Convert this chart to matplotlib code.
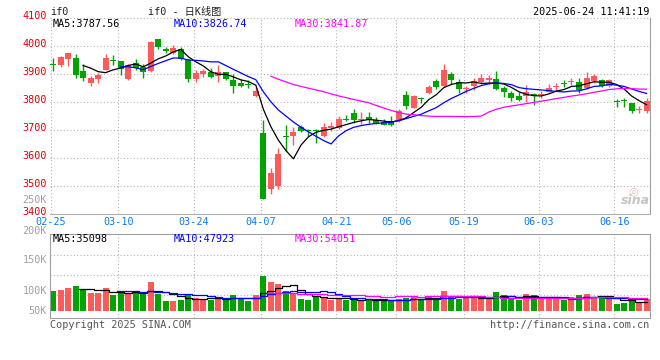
import matplotlib
matplotlib.use("Agg")
import matplotlib.pyplot as plt
import matplotlib.transforms as mtransforms
import numpy as np
import pandas as pd

# ---- data (IF0 daily, 80 sessions) ----
tick_idx = [0, 9, 19, 28, 38, 46, 55, 65, 75]
tick_labels = ["02-25", "03-10", "03-24", "04-07", "04-21", "05-06", "05-19", "06-03", "06-16"]
price_ticks = [3400, 3500, 3600, 3700, 3800, 3900, 4000, 4100]

opens = [3934, 3933, 3955, 3957, 3910, 3869, 3882, 3914, 3950, 3946,
         3882, 3938, 3924, 3911, 4025, 3987, 3976, 3989, 3950, 3882,
         3900, 3906, 3893, 3907, 3880, 3869, 3864, 3822, 3688, 3488,
         3500, 3679, 3679, 3711, 3699, 3698, 3679, 3707, 3708, 3738,
         3760, 3737, 3748, 3736, 3730, 3732, 3732, 3824, 3780, 3814,
         3833, 3875, 3857, 3899, 3873, 3845, 3856, 3871, 3880, 3881,
         3849, 3833, 3822, 3823, 3830, 3824, 3836, 3853, 3867, 3871,
         3873, 3851, 3876, 3877, 3858, 3804, 3807, 3798, 3770, 3768]
highs = [3956, 3964, 3975, 3971, 3936, 3893, 3905, 3971, 3968, 3946,
         3935, 3954, 3936, 4018, 4025, 3998, 4004, 3995, 3955, 3914,
         3917, 3923, 3933, 3907, 3901, 3881, 3879, 3855, 3735, 3564,
         3637, 3717, 3712, 3719, 3702, 3705, 3726, 3729, 3750, 3752,
         3774, 3764, 3764, 3748, 3741, 3750, 3776, 3839, 3825, 3819,
         3862, 3881, 3937, 3908, 3881, 3857, 3885, 3900, 3896, 3909,
         3857, 3838, 3834, 3860, 3833, 3839, 3864, 3869, 3877, 3887,
         3885, 3907, 3901, 3883, 3882, 3811, 3814, 3798, 3786, 3813]
lows = [3912, 3924, 3930, 3887, 3875, 3858, 3869, 3914, 3933, 3896,
        3880, 3914, 3887, 3908, 3989, 3976, 3970, 3950, 3870, 3873,
        3890, 3887, 3873, 3879, 3833, 3852, 3849, 3819, 3452, 3473,
        3491, 3625, 3648, 3694, 3679, 3655, 3676, 3696, 3705, 3731,
        3726, 3720, 3724, 3720, 3717, 3714, 3730, 3774, 3778, 3798,
        3829, 3848, 3855, 3865, 3833, 3833, 3844, 3864, 3866, 3844,
        3819, 3804, 3804, 3800, 3791, 3815, 3834, 3838, 3855, 3860,
        3833, 3848, 3869, 3855, 3854, 3783, 3783, 3759, 3762, 3759]
closes = [3932, 3960, 3975, 3898, 3887, 3886, 3896, 3957, 3948, 3919,
          3932, 3923, 3906, 4014, 3995, 3984, 3994, 3952, 3883, 3905,
          3910, 3891, 3906, 3883, 3858, 3857, 3862, 3839, 3452, 3548,
          3616, 3677, 3693, 3696, 3697, 3696, 3712, 3714, 3738, 3736,
          3735, 3741, 3738, 3726, 3719, 3718, 3768, 3786, 3821, 3812,
          3855, 3855, 3913, 3877, 3845, 3850, 3874, 3885, 3884, 3845,
          3834, 3813, 3807, 3837, 3822, 3829, 3850, 3857, 3865, 3876,
          3842, 3885, 3893, 3857, 3877, 3800, 3805, 3768, 3774, 3804]
# volume in thousands of lots
volume = [60, 62.5, 68.3, 72.5, 65, 55, 55, 67.5, 50, 56.7,
          51.7, 56.7, 56.7, 82.5, 52.5, 35, 35, 37.5, 52.5, 42.5,
          37.5, 37.5, 44, 42.5, 50, 40, 35, 50, 98, 82.5,
          77.5, 60, 52.5, 40, 37.5, 47.5, 45, 37.5, 40, 37.5,
          40, 37.5, 40, 35, 35, 37.5, 40, 42.5, 47.5, 37.5,
          47.5, 40, 60, 47.5, 40, 42.5, 42.5, 42.5, 40, 57.5,
          50, 42.5, 37.5, 52.5, 50, 40, 40, 40, 37.5, 45,
          50, 52.5, 42.5, 47.5, 42.5, 27.5, 30, 35, 32.5, 40]
vol_ticks = ["250K", "200K", "150K", "100K", "50K"]

W, H = 660, 360
RED = "#ff5a5a"
GREEN = "#00a300"
GRID = "#b4b4b4"
MONO = ["DejaVu Sans Mono", "Noto Sans CJK SC"]
FS = 7.3


def fx(px):
    return px / W


def fy(py):
    return 1 - py / H


o = np.array(opens, float)
h = np.array(highs, float)
l = np.array(lows, float)
c = np.array(closes, float)
v = np.array(volume, float)
x = np.arange(len(c))
up = c >= o
colors = np.where(up, RED, GREEN)

cs = pd.Series(c)
vs = pd.Series(v)
ma5, ma10, ma30 = (cs.rolling(n).mean() for n in (5, 10, 30))
vma5, vma10, vma30 = (vs.rolling(n).mean() for n in (5, 10, 30))

fig = plt.figure(figsize=(W / 100, H / 100), dpi=100)
fig.patch.set_facecolor("white")

xlim = (-0.4, 79.45)
tick_pos = np.array(tick_idx) - 0.3
dots = (0, (1, 2))

# ---- price panel ----
ax = fig.add_axes([fx(50), fy(214), fx(600), 196 / H])
ax.set_xlim(*xlim)
ax.set_ylim(3400, 4100)
for p in price_ticks[1:-1]:
    ax.axhline(p, color=GRID, lw=0.8, ls=dots, zorder=0)
ax.axhline(4100, color=GRID, lw=0.8, ls=dots, zorder=0, clip_on=False)
for t in tick_pos:
    ax.axvline(t, color=GRID, lw=0.8, ls=dots, zorder=0)

ax.vlines(x, l, h, colors=colors, lw=1.0, zorder=2)
body_h = np.maximum(np.abs(c - o), 4)
body_b = np.where(np.abs(c - o) < 4, (c + o) / 2 - 2, np.minimum(o, c))
ax.bar(x, body_h, bottom=body_b, width=0.8, color=colors, lw=0, zorder=3)

ax.plot(x, ma5, color="black", lw=0.9, zorder=4)
ax.plot(x, ma10, color="#0000ff", lw=0.9, zorder=4)
ax.plot(x, ma30, color="#ff00ff", lw=0.9, zorder=4)

ax.set_yticks(price_ticks)
ax.set_yticklabels([str(p) for p in price_ticks], color="#e00000",
                   fontsize=FS, family=MONO)
ax.set_xticks(tick_pos)
ax.set_xticklabels(tick_labels, color="#0a7cf0", fontsize=FS, family=MONO)
ax.tick_params(length=0, pad=2.5)
lift = mtransforms.ScaledTranslation(0, 2.5 / 100, fig.dpi_scale_trans)
for lab in ax.get_yticklabels():
    lab.set_transform(lab.get_transform() + lift)
for s in ("left", "top"):
    ax.spines[s].set_visible(False)
ax.spines["right"].set_color("#a0a0a0")
ax.spines["bottom"].set_color("#b0b0b0")

# ---- volume panel ----
av = fig.add_axes([fx(50), fy(318.3), fx(600), 84 / H])
av.set_xlim(*xlim)
av.set_ylim(-8.25, 201.75)
for g in (50, 100, 150):
    av.axhline(g, color=GRID, lw=0.8, ls=dots, zorder=0)
for t in tick_pos[1:]:
    av.axvline(t, color=GRID, lw=0.8, ls=dots, zorder=0)
base = 10
av.bar(x, v - base, bottom=base, width=0.8, color=colors, lw=0, zorder=2)
av.plot(x, vma5, color="black", lw=0.9, drawstyle="steps-mid", zorder=3)
av.plot(x, vma10, color="#0000ff", lw=0.9, drawstyle="steps-mid", zorder=3)
av.plot(x, vma30, color="#ff00ff", lw=0.9, drawstyle="steps-mid", zorder=3)
av.set_xticks([])
av.set_yticks([])
for s in av.spines.values():
    s.set_color("#a0a0a0")

# ---- texts ----
kw = dict(fontsize=FS, family=MONO, va="center")
fig.text(fx(50), fy(12), "if0", ha="left", color="#222222", **kw)
fig.text(fx(185), fy(12), "if0 - 日K线图", ha="center", color="#222222", **kw)
fig.text(fx(649), fy(12), "2025-06-24 11:41:19", ha="right", color="black", **kw)

fig.text(fx(53), fy(24), "MA5:%.2f" % 3787.56, ha="left", color="black", **kw)
fig.text(fx(174), fy(24), "MA10:%.2f" % 3826.74, ha="left", color="#0000ff", **kw)
fig.text(fx(295), fy(24), "MA30:%.2f" % 3841.87, ha="left", color="#ff00ff", **kw)

fig.text(fx(53), fy(238.5), "MA5:35098", ha="left", color="black", **kw)
fig.text(fx(174), fy(238.5), "MA10:47923", ha="left", color="#0000ff", **kw)
fig.text(fx(295), fy(238.5), "MA30:54051", ha="left", color="#ff00ff", **kw)

for lab, py in zip(vol_ticks, [200, 231, 260, 291, 311]):
    fig.text(fx(47), fy(py), lab, ha="right", color="#a0a0a0", **kw)

fig.text(fx(50), fy(324.5), "Copyright 2025 SINA.COM", ha="left", color="#555555", **kw)
fig.text(fx(649), fy(324.5), "http://finance.sina.com.cn", ha="right", color="#555555", **kw)

fig.text(fx(633), fy(191), "◎", ha="center", va="center", fontsize=8,
         color="#f2b8b8")
fig.text(fx(635), fy(201), "sina", ha="center", va="center", fontsize=9,
         style="italic", weight="bold", color="#c4c4c4")

fig.savefig("out.png", dpi=100, facecolor="white")
